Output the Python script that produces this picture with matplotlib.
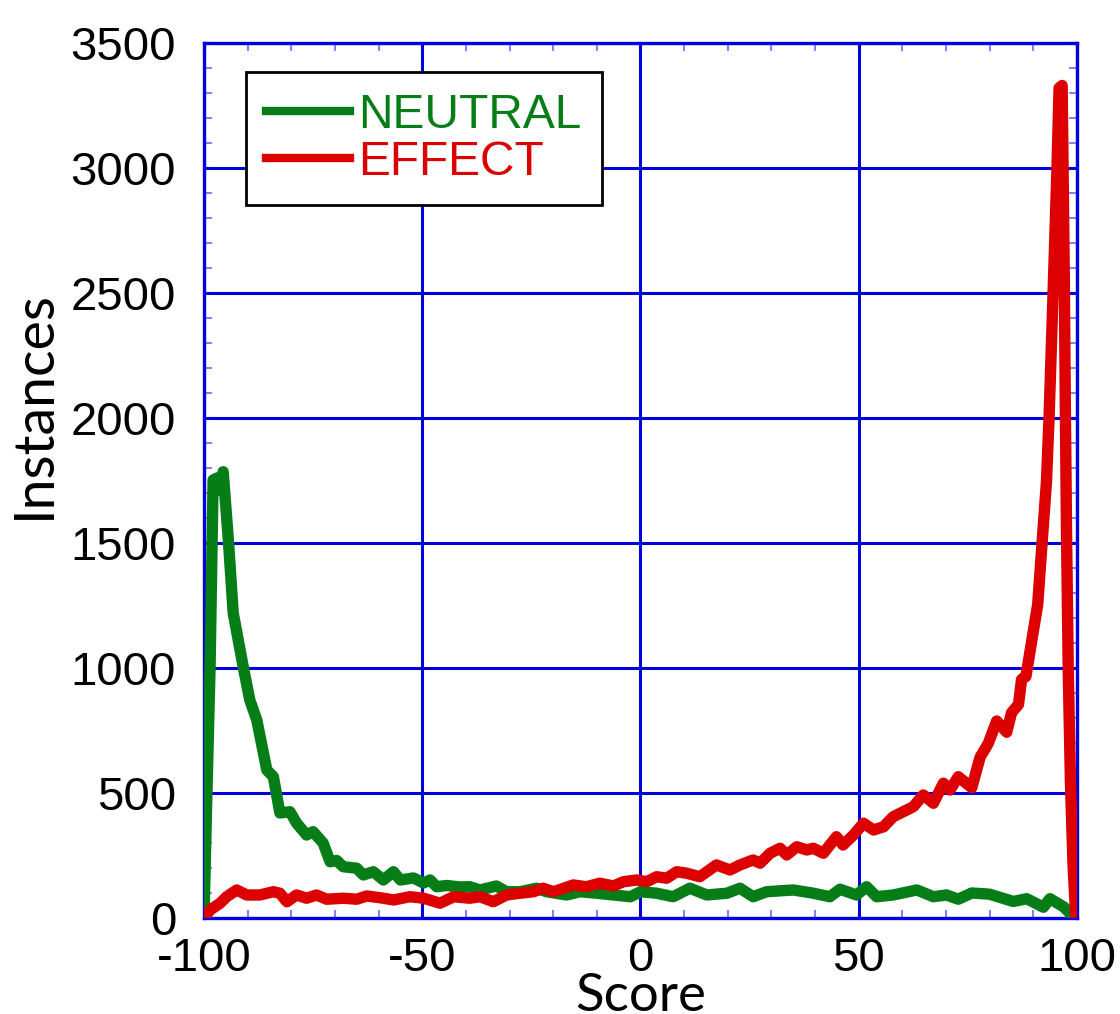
import matplotlib
matplotlib.use('Agg')
from matplotlib import pyplot as plt
from matplotlib.ticker import MultipleLocator

plt.rcParams['axes.unicode_minus'] = False

# NEUTRAL curve (score, instances)
neutral_x = [-100, -99.4, -98.6, -97.9, -97.0, -96.3, -95.6, -94.4, -93.3, -91.0, -89.5, -87.9,
             -85.6, -84.1, -82.6, -80.3, -78.8, -76.5, -75.0, -72.7, -71.1, -69.6, -68.1, -65.0,
             -63.5, -61.2, -58.9, -56.6, -55.0, -52.0, -49.7, -48.2, -46.7, -44.4, -41.4, -39.1,
             -36.8, -33.0, -30.7, -27.6, -23.8, -21.5, -16.9, -13.9, -10.0, -6.2, -2.3, 0.0,
             3.7, 7.5, 11.3, 15.2, 19.8, 22.8, 25.8, 28.9, 35.0, 39.6, 43.4, 45.7, 49.5, 51.8,
             54.1, 57.9, 63.3, 67.1, 70.1, 72.8, 75.9, 80.0, 85.4, 88.5, 92.3, 93.8, 96.9, 98.4, 99.2]
neutral_y = [0, 445, 1004, 1752, 1760, 1712, 1785, 1510, 1220, 1004, 872, 792,
             592, 565, 420, 425, 380, 332, 345, 300, 225, 230, 205, 199,
             172, 185, 152, 185, 152, 160, 140, 152, 125, 130, 124, 125,
             112, 128, 105, 105, 119, 105, 92, 105, 99, 92, 85, 105,
             99, 85, 119, 92, 99, 119, 85, 105, 112, 99, 85, 115, 92, 125,
             85, 92, 112, 85, 92, 75, 100, 95, 66, 77, 43, 77, 45, 19, 0]

# EFFECT curve (score, instances)
effect_x = [-100, -98.6, -96.3, -94.8, -92.5, -90.2, -87.2, -84.1, -82.6, -81.0, -78.8, -76.5,
            -74.2, -71.9, -68.1, -65.0, -62.7, -58.9, -56.6, -52.8, -49.7, -45.9, -42.8, -39.1,
            -36.8, -33.7, -30.7, -27.6, -24.5, -22.3, -19.9, -15.4, -12.4, -9.3, -6.2, -3.9,
            -0.8, 1.4, 3.7, 6.0, 8.3, 10.6, 13.6, 17.4, 20.5, 22.8, 25.8, 27.4, 29.7, 32.0,
            33.5, 35.8, 38.1, 39.6, 41.9, 44.9, 46.4, 48.8, 51.1, 53.4, 55.7, 57.9, 60.2, 62.5,
            64.8, 67.1, 69.4, 70.9, 72.8, 75.9, 77.8, 79.7, 81.6, 83.9, 85.0, 86.6, 87.3, 88.3,
            91.0, 92.0, 93.0, 93.6, 94.6, 95.4, 95.9, 96.6, 97.1, 97.3, 97.6, 98.0, 98.5, 99.1,
            99.7, 100]
effect_y = [0, 32, 59, 85, 112, 92, 92, 105, 99, 65, 92, 79,
            92, 75, 79, 75, 88, 79, 72, 85, 79, 59, 85, 79,
            85, 65, 92, 99, 105, 119, 105, 132, 125, 139, 128, 145,
            152, 145, 165, 159, 185, 179, 165, 212, 192, 212, 232, 219, 259, 279,
            252, 285, 272, 279, 259, 325, 292, 332, 379, 352, 365, 405, 425, 445,
            492, 459, 539, 512, 565, 521, 643, 699, 788, 743, 821, 854, 954, 966,
            1254, 1500, 1743, 2000, 2543, 2988, 3320, 3330, 2543, 2099, 1543, 988, 543, 210,
            10, 0]

x_ticks = [-100, -50, 0, 50, 100]
y_ticks = [0, 500, 1000, 1500, 2000, 2500, 3000, 3500]

blue = '#0000dd'
green = '#067d17'
red = '#dc0000'

fig = plt.figure(figsize=(11.2, 10.14), dpi=100)
ax = fig.add_axes([0.1821, 0.0947, 0.7795, 0.8629])

ax.plot(neutral_x, neutral_y, color=green, linewidth=8.2, label='NEUTRAL',
        solid_joinstyle='round', zorder=3)
ax.plot(effect_x, effect_y, color=red, linewidth=8.2, label='EFFECT',
        solid_joinstyle='round', zorder=3)

ax.set_xlim(-100, 100)
ax.set_ylim(0, 3500)
ax.set_xticks(x_ticks)
ax.set_yticks(y_ticks)
ax.xaxis.set_minor_locator(MultipleLocator(10))
ax.yaxis.set_minor_locator(MultipleLocator(100))
ax.grid(True, which='major', color=blue, linewidth=2.2)
ax.set_axisbelow(True)
for s in ax.spines.values():
    s.set_color(blue)
    s.set_linewidth(2.4)
ax.tick_params(which='both', direction='in', top=True, right=True)
ax.tick_params(which='major', length=6, width=1.5, color=blue, labelsize=34, pad=14)
ax.tick_params(axis='y', which='major', pad=20)
ax.tick_params(which='minor', length=6, width=1.2, color='#6a6aff')
for lab in ax.get_xticklabels() + ax.get_yticklabels():
    lab.set_fontfamily('Liberation Sans')

ax.set_xlabel('Score', fontsize=38, family='Lato', labelpad=-6)
ax.set_ylabel('Instances', fontsize=40, family='Lato')
ax.yaxis.set_label_coords(-0.165, 0.587)

leg = ax.legend(loc='upper left', bbox_to_anchor=(0.0478, 0.9665), borderaxespad=0,
                prop={'family': 'Liberation Sans', 'size': 34.5}, fancybox=False,
                edgecolor='black', framealpha=1, handlelength=1.75, handletextpad=0.17,
                labelspacing=0.04, borderpad=0.43)
leg.get_frame().set_linewidth(2)
for line, txt in zip(leg.get_lines(), leg.get_texts()):
    line.set_linewidth(6)
    txt.set_color(line.get_color())

plt.savefig('out.png', dpi=100)
